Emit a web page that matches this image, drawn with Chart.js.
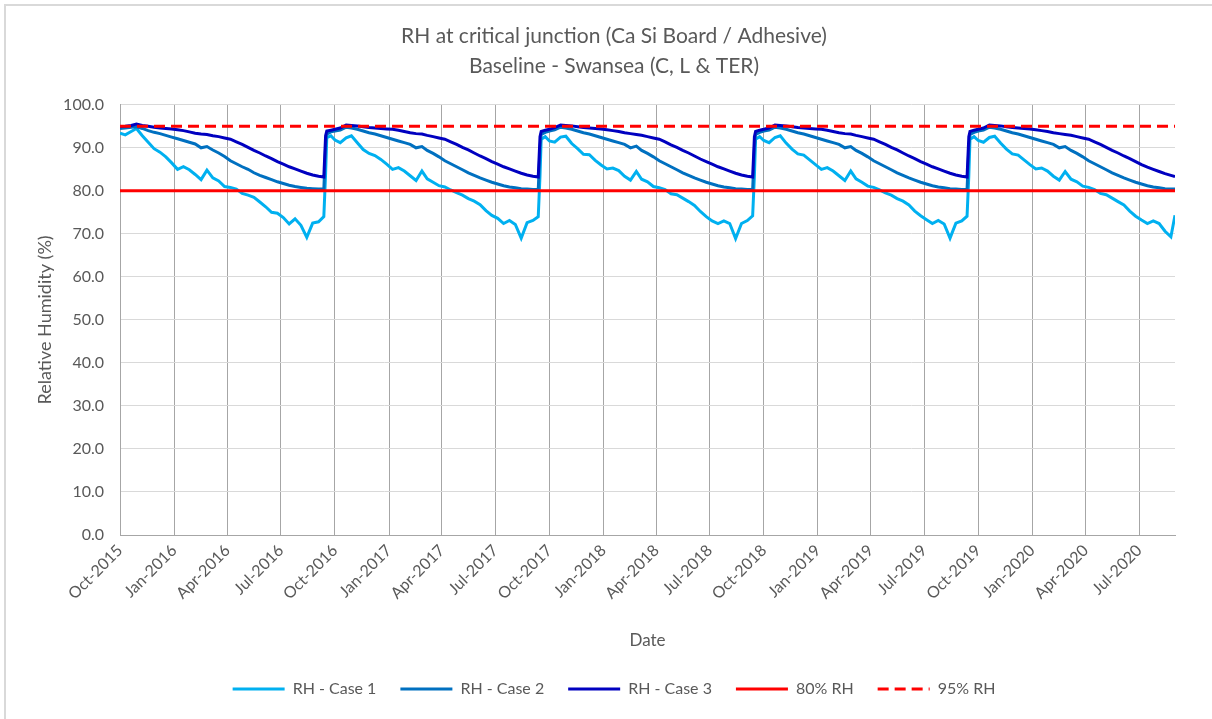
<!DOCTYPE html>
<html>
<head>
<meta charset="utf-8">
<title>RH at critical junction</title>
<script src="https://cdn.jsdelivr.net/npm/chart.js@4.4.0/dist/chart.umd.min.js"></script>
<style>
    html, body { margin: 0; padding: 0; background: #ffffff; }
    .frame {
        position: absolute; left: 4px; top: 4px;
        width: 1220px; height: 730px;
        border-left: 2px solid #d9d9d9; border-top: 2px solid #d9d9d9;
    }
    #rhChart { position: absolute; left: 0; top: 0; }
</style>
</head>
<body>
<div class="frame"></div>
<canvas id="rhChart" width="1212" height="719"></canvas>
<script>
// sample dates (one row per yearly cycle)
const dates = [
    '2015-10-01','2015-10-10','2015-10-20','2015-10-29','2015-11-08','2015-11-18','2015-11-28','2015-12-08','2015-12-18','2015-12-28',
    '2016-01-07','2016-01-17','2016-01-27','2016-02-06','2016-02-16','2016-02-26','2016-03-07','2016-03-17','2016-03-27',
    '2016-04-06','2016-04-16','2016-04-26','2016-05-06','2016-05-16','2016-05-26','2016-06-05','2016-06-15','2016-06-25',
    '2016-07-05','2016-07-15','2016-07-25','2016-08-04','2016-08-14','2016-08-24','2016-09-03','2016-09-12','2016-09-15','2016-09-17','2016-09-24',

    '2016-10-01','2016-10-10','2016-10-20','2016-10-29','2016-11-08','2016-11-18','2016-11-28','2016-12-08','2016-12-18','2016-12-28',
    '2017-01-07','2017-01-17','2017-01-27','2017-02-06','2017-02-16','2017-02-26','2017-03-07','2017-03-17','2017-03-27',
    '2017-04-06','2017-04-16','2017-04-26','2017-05-06','2017-05-16','2017-05-26','2017-06-05','2017-06-15','2017-06-25',
    '2017-07-05','2017-07-15','2017-07-25','2017-08-04','2017-08-14','2017-08-24','2017-09-03','2017-09-12','2017-09-15','2017-09-17','2017-09-24',

    '2017-10-01','2017-10-10','2017-10-20','2017-10-29','2017-11-08','2017-11-18','2017-11-28','2017-12-08','2017-12-18','2017-12-28',
    '2018-01-07','2018-01-17','2018-01-27','2018-02-06','2018-02-16','2018-02-26','2018-03-07','2018-03-17','2018-03-27',
    '2018-04-06','2018-04-16','2018-04-26','2018-05-06','2018-05-16','2018-05-26','2018-06-05','2018-06-15','2018-06-25',
    '2018-07-05','2018-07-15','2018-07-25','2018-08-04','2018-08-14','2018-08-24','2018-09-03','2018-09-12','2018-09-15','2018-09-17','2018-09-24',

    '2018-10-01','2018-10-10','2018-10-20','2018-10-29','2018-11-08','2018-11-18','2018-11-28','2018-12-08','2018-12-18','2018-12-28',
    '2019-01-07','2019-01-17','2019-01-27','2019-02-06','2019-02-16','2019-02-26','2019-03-07','2019-03-17','2019-03-27',
    '2019-04-06','2019-04-16','2019-04-26','2019-05-06','2019-05-16','2019-05-26','2019-06-05','2019-06-15','2019-06-25',
    '2019-07-05','2019-07-15','2019-07-25','2019-08-04','2019-08-14','2019-08-24','2019-09-03','2019-09-12','2019-09-15','2019-09-17','2019-09-24',

    '2019-10-01','2019-10-10','2019-10-20','2019-10-29','2019-11-08','2019-11-18','2019-11-28','2019-12-08','2019-12-18','2019-12-28',
    '2020-01-07','2020-01-17','2020-01-27','2020-02-06','2020-02-16','2020-02-26','2020-03-07','2020-03-17','2020-03-27',
    '2020-04-06','2020-04-16','2020-04-26','2020-05-06','2020-05-16','2020-05-26','2020-06-05','2020-06-15','2020-06-25',
    '2020-07-05','2020-07-15','2020-07-25','2020-08-04','2020-08-14','2020-08-24','2020-08-31'
];

const rhCase1 = [
    93.4, 93.0, 93.8, 94.5, 92.8, 91.3, 89.8, 89.0, 87.9, 86.5,
    85.0, 85.6, 84.9, 83.8, 82.6, 84.8, 83.0, 82.3, 81.0,
    80.8, 80.4, 79.4, 79.0, 78.5, 77.4, 76.3, 75.0, 74.8,
    73.8, 72.3, 73.5, 72.0, 69.2, 72.5, 72.8, 74.0, 84.0, 92.4, 92.8,

    91.8, 91.2, 92.3, 92.8, 91.2, 89.6, 88.7, 88.2, 87.3, 86.2,
    85.0, 85.4, 84.6, 83.5, 82.4, 84.6, 82.8, 82.0, 81.2,
    80.9, 80.2, 79.6, 79.0, 78.2, 77.6, 76.8, 75.4, 74.3,
    73.6, 72.4, 73.1, 72.2, 69.0, 72.6, 73.1, 74.0, 83.5, 92.0, 92.6,

    91.6, 91.3, 92.5, 92.7, 91.0, 89.8, 88.5, 88.4, 87.1, 86.0,
    85.1, 85.3, 84.7, 83.4, 82.5, 84.5, 82.7, 82.1, 81.0,
    80.7, 80.3, 79.3, 79.1, 78.3, 77.5, 76.6, 75.2, 74.0,
    73.0, 72.4, 73.0, 72.4, 68.9, 72.4, 73.1, 74.2, 83.5, 92.0, 92.6,

    91.7, 91.2, 92.4, 92.8, 91.1, 89.7, 88.6, 88.3, 87.2, 86.1,
    85.0, 85.4, 84.6, 83.5, 82.4, 84.6, 82.8, 82.0, 81.1,
    80.8, 80.2, 79.5, 79.0, 78.2, 77.6, 76.7, 75.3, 74.2,
    73.3, 72.4, 73.1, 72.3, 69.0, 72.5, 73.0, 74.1, 83.5, 92.0, 92.6,

    91.7, 91.3, 92.4, 92.7, 91.1, 89.7, 88.6, 88.3, 87.2, 86.1,
    85.1, 85.3, 84.6, 83.4, 82.5, 84.5, 82.7, 82.1, 81.1,
    80.8, 80.3, 79.4, 79.1, 78.3, 77.5, 76.7, 75.3, 74.1,
    73.2, 72.4, 73.0, 72.4, 70.6, 69.3, 74.3
];

const rhCase2 = [
    94.5, 94.6, 94.8, 94.9, 94.5, 94.0, 93.6, 93.3, 92.9, 92.5,
    92.1, 91.7, 91.3, 90.9, 90.0, 90.3, 89.5, 88.8, 88.0,
    87.0, 86.3, 85.6, 85.0, 84.2, 83.6, 83.1, 82.6, 82.1,
    81.7, 81.3, 81.0, 80.8, 80.6, 80.5, 80.4, 80.4, 90.5, 93.2, 93.7,

    93.9, 94.1, 94.8, 94.6, 94.3, 93.9, 93.5, 93.2, 92.8, 92.4,
    92.0, 91.6, 91.2, 90.8, 90.0, 90.3, 89.4, 88.7, 87.9,
    87.0, 86.3, 85.6, 84.9, 84.2, 83.6, 83.0, 82.5, 82.0,
    81.6, 81.2, 80.9, 80.7, 80.5, 80.4, 80.3, 80.3, 90.0, 93.1, 93.6,

    93.9, 94.2, 94.8, 94.6, 94.3, 93.9, 93.5, 93.2, 92.8, 92.4,
    92.0, 91.6, 91.2, 90.8, 90.0, 90.4, 89.4, 88.7, 87.9,
    87.0, 86.3, 85.6, 84.9, 84.2, 83.6, 83.0, 82.5, 82.0,
    81.6, 81.2, 80.9, 80.7, 80.5, 80.4, 80.3, 80.3, 90.0, 93.1, 93.6,

    93.9, 94.1, 94.8, 94.6, 94.3, 93.9, 93.5, 93.2, 92.8, 92.4,
    92.0, 91.6, 91.2, 90.8, 90.0, 90.3, 89.4, 88.7, 87.9,
    87.0, 86.3, 85.6, 84.9, 84.2, 83.6, 83.0, 82.5, 82.0,
    81.6, 81.2, 80.9, 80.7, 80.5, 80.4, 80.3, 80.3, 90.0, 93.1, 93.6,

    93.9, 94.1, 94.8, 94.6, 94.3, 93.9, 93.5, 93.2, 92.8, 92.4,
    92.0, 91.6, 91.2, 90.8, 90.0, 90.3, 89.4, 88.7, 87.9,
    87.0, 86.3, 85.6, 84.9, 84.2, 83.6, 83.0, 82.5, 82.0,
    81.6, 81.2, 80.9, 80.7, 80.5, 80.4, 80.4
];

const rhCase3 = [
    94.9, 95.0, 95.2, 95.5, 95.2, 95.0, 94.8, 94.6, 94.5, 94.4,
    94.2, 94.0, 93.7, 93.4, 93.2, 93.1, 92.8, 92.6, 92.3,
    92.0, 91.4, 90.8, 90.1, 89.4, 88.8, 88.1, 87.5, 86.8,
    86.2, 85.6, 85.1, 84.6, 84.1, 83.7, 83.4, 83.2, 92.8, 93.9, 94.1,

    94.3, 94.6, 95.3, 95.2, 95.1, 94.9, 94.7, 94.6, 94.5, 94.4,
    94.3, 94.1, 93.8, 93.5, 93.3, 93.2, 92.9, 92.6, 92.3,
    92.0, 91.4, 90.8, 90.1, 89.5, 88.8, 88.1, 87.5, 86.8,
    86.2, 85.6, 85.1, 84.6, 84.1, 83.7, 83.4, 83.2, 92.6, 93.8, 94.1,

    94.3, 94.7, 95.3, 95.2, 95.1, 94.9, 94.7, 94.6, 94.5, 94.4,
    94.2, 94.0, 93.8, 93.5, 93.3, 93.1, 92.9, 92.6, 92.3,
    92.0, 91.4, 90.7, 90.1, 89.4, 88.8, 88.1, 87.4, 86.8,
    86.2, 85.6, 85.1, 84.6, 84.1, 83.7, 83.4, 83.2, 92.6, 93.8, 94.1,

    94.3, 94.6, 95.3, 95.2, 95.1, 94.9, 94.7, 94.6, 94.5, 94.4,
    94.3, 94.1, 93.8, 93.5, 93.3, 93.2, 92.9, 92.6, 92.3,
    92.0, 91.4, 90.8, 90.1, 89.5, 88.8, 88.1, 87.5, 86.8,
    86.2, 85.6, 85.1, 84.6, 84.1, 83.7, 83.4, 83.2, 92.6, 93.8, 94.1,

    94.3, 94.6, 95.3, 95.2, 95.1, 94.9, 94.7, 94.6, 94.5, 94.4,
    94.2, 94.0, 93.8, 93.5, 93.3, 93.1, 92.9, 92.6, 92.3,
    92.0, 91.4, 90.8, 90.1, 89.4, 88.8, 88.1, 87.5, 86.8,
    86.1, 85.5, 85.0, 84.5, 84.0, 83.6, 83.3
];

// threshold lines across the whole period
const limitDates = ['2015-10-01', '2020-08-31'];
const rh80 = [80, 80];
const rh95 = [95, 95];

// quarterly axis ticks
const tickDates = [
    '2015-10-01','2016-01-01','2016-04-01','2016-07-01','2016-10-01','2017-01-01','2017-04-01','2017-07-01',
    '2017-10-01','2018-01-01','2018-04-01','2018-07-01','2018-10-01','2019-01-01','2019-04-01','2019-07-01',
    '2019-10-01','2020-01-01','2020-04-01','2020-07-01'
];
const tickLabels = [
    'Oct-2015','Jan-2016','Apr-2016','Jul-2016','Oct-2016','Jan-2017','Apr-2017','Jul-2017',
    'Oct-2017','Jan-2018','Apr-2018','Jul-2018','Oct-2018','Jan-2019','Apr-2019','Jul-2019',
    'Oct-2019','Jan-2020','Apr-2020','Jul-2020'
];

const yTicks = [0, 10, 20, 30, 40, 50, 60, 70, 80, 90, 100];

// days since the first date, used as x on a linear axis
const startMs = Date.parse(dates[0] + 'T00:00:00Z');
function dayOf(d) {
    return Math.round((Date.parse(d + 'T00:00:00Z') - startMs) / 86400000);
}
function toPoints(ds, vs) {
    return ds.map((d, i) => ({ x: dayOf(d), y: vs[i] }));
}

const tickDays = tickDates.map(dayOf);
const labelByDay = {};
tickDays.forEach((d, i) => { labelByDay[d] = tickLabels[i]; });

const textColor = '#595959';
const fontFamily = 'Lato, "Open Sans", sans-serif';

document.addEventListener('DOMContentLoaded', function() {
    const ctx = document.getElementById('rhChart').getContext('2d');

    const lineBase = {
        pointRadius: 0,
        pointHoverRadius: 0,
        borderWidth: 3,
        tension: 0,
        fill: false,
        pointStyle: 'line'
    };

    new Chart(ctx, {
        type: 'line',
        data: {
            datasets: [
                Object.assign({}, lineBase, {
                    label: 'RH - Case 1',
                    data: toPoints(dates, rhCase1),
                    borderColor: '#00B0F0',
                    backgroundColor: '#00B0F0',
                    order: 5
                }),
                Object.assign({}, lineBase, {
                    label: 'RH - Case 2',
                    data: toPoints(dates, rhCase2),
                    borderColor: '#0070C0',
                    backgroundColor: '#0070C0',
                    order: 4
                }),
                Object.assign({}, lineBase, {
                    label: 'RH - Case 3',
                    data: toPoints(dates, rhCase3),
                    borderColor: '#0000C0',
                    backgroundColor: '#0000C0',
                    order: 3
                }),
                Object.assign({}, lineBase, {
                    label: '80% RH',
                    data: toPoints(limitDates, rh80),
                    borderColor: '#FF0000',
                    backgroundColor: '#FF0000',
                    order: 2
                }),
                Object.assign({}, lineBase, {
                    label: '95% RH',
                    data: toPoints(limitDates, rh95),
                    borderColor: '#FF0000',
                    backgroundColor: '#FF0000',
                    borderDash: [11, 6],
                    order: 1
                })
            ]
        },
        options: {
            responsive: false,
            animation: false,
            layout: {
                padding: { left: 16, right: 0, top: 0, bottom: 12 }
            },
            plugins: {
                title: {
                    display: true,
                    text: ['RH at critical junction (Ca Si Board / Adhesive)', 'Baseline - Swansea (C, L & TER)'],
                    color: textColor,
                    font: { family: fontFamily, size: 21, weight: 'normal', lineHeight: 1.4 },
                    padding: { top: 22, bottom: 24 }
                },
                legend: {
                    position: 'bottom',
                    labels: {
                        usePointStyle: true,
                        pointStyleWidth: 52,
                        boxHeight: 16,
                        padding: 24,
                        color: textColor,
                        font: { family: fontFamily, size: 16 },
                        sort: (a, b) => a.datasetIndex - b.datasetIndex,
                        generateLabels: function(chart) {
                            const items = Chart.defaults.plugins.legend.labels.generateLabels(chart);
                            items.forEach(item => {
                                const ds = chart.data.datasets[item.datasetIndex];
                                item.lineDash = ds.borderDash || [];
                                item.lineWidth = 3;
                            });
                            return items;
                        }
                    }
                },
                tooltip: { enabled: false }
            },
            scales: {
                x: {
                    type: 'linear',
                    min: 0,
                    max: dayOf('2020-08-31'),
                    afterBuildTicks: function(scale) {
                        scale.ticks = tickDays.map(v => ({ value: v }));
                    },
                    afterFit: function(scale) {
                        scale.height = 122;
                    },
                    ticks: {
                        autoSkip: false,
                        maxRotation: 45,
                        minRotation: 45,
                        padding: 6,
                        color: textColor,
                        font: { family: fontFamily, size: 16 },
                        callback: function(value) {
                            return labelByDay[value] || '';
                        }
                    },
                    grid: {
                        color: '#a6a6a6',
                        lineWidth: 1,
                        drawTicks: false
                    },
                    border: { color: '#a6a6a6', width: 1 },
                    title: {
                        display: true,
                        text: 'Date',
                        color: textColor,
                        font: { family: fontFamily, size: 17 },
                        padding: { top: 4, bottom: 6 }
                    }
                },
                y: {
                    min: 0,
                    max: 100,
                    afterBuildTicks: function(scale) {
                        scale.ticks = yTicks.map(v => ({ value: v }));
                    },
                    afterFit: function(scale) {
                        scale.width = 104;
                    },
                    ticks: {
                        padding: 16,
                        color: textColor,
                        font: { family: fontFamily, size: 16 },
                        callback: function(value) {
                            return Number(value).toFixed(1);
                        }
                    },
                    grid: {
                        color: '#d9d9d9',
                        lineWidth: 1,
                        drawTicks: false
                    },
                    border: { color: '#a6a6a6', width: 1 },
                    title: {
                        display: true,
                        text: 'Relative Humidity (%)',
                        color: textColor,
                        font: { family: fontFamily, size: 18 },
                        padding: { top: 18, bottom: 0 }
                    }
                },
                // empty right-hand gutter so the legend centres like the original
                gutter: {
                    type: 'linear',
                    position: 'right',
                    display: true,
                    ticks: { display: false },
                    grid: { display: false },
                    border: { display: false },
                    afterFit: function(scale) {
                        scale.width = 37;
                    }
                }
            }
        }
    });
});
</script>
</body>
</html>
